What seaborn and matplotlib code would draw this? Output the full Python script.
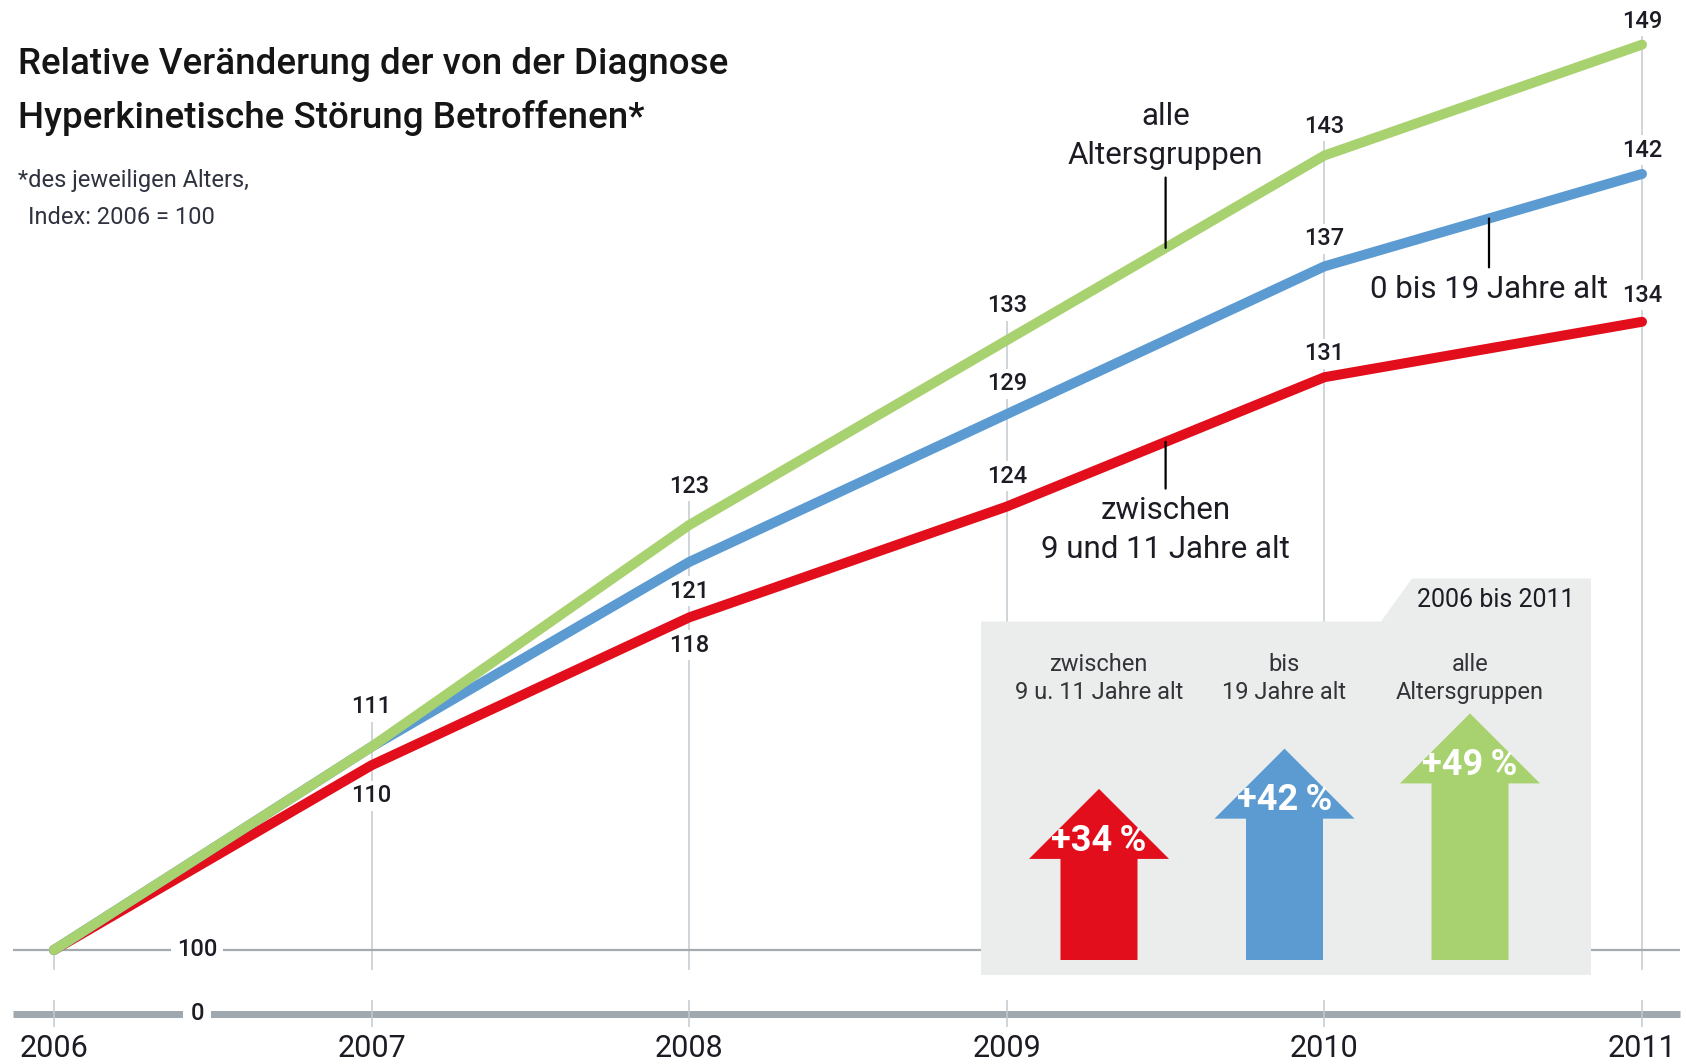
import numpy as np
import pandas as pd
import matplotlib.pyplot as plt
import seaborn as sns
from matplotlib.patches import Polygon

# ===== DATA =====
years = [2006, 2007, 2008, 2009, 2010, 2011]
alle = [100, 111, 123, 133, 143, 149]
bis19 = [100, 111, 121, 129, 137, 142]
zwischen = [100, 110, 118, 124, 131, 134]

groups = ['zwischen 9 und 11 Jahre alt', '0 bis 19 Jahre alt', 'alle Altersgruppen']
colors = ['#e20e1c', '#5b9bd2', '#a8d26f']  # red, blue, green

change_labels = ['zwischen\n9 u. 11 Jahre alt', 'bis\n19 Jahre alt', 'alle\nAltersgruppen']
change_pct = [34, 42, 49]

# label offsets in points (None = no label)
label_offsets = [
    [None, -22, -20, 22, 17, 19],     # zwischen
    [None, None, -21, 22, 20, 17],    # bis 19
    [None, 29, 28, 25, 21, 17],       # alle
]

# ===== STYLE =====
sns.set_style('white')
plt.rcParams['font.family'] = ['Roboto', 'DejaVu Sans']
txt = '#1c1c24'
grid = '#c4cacf'

W, H = 1686, 1064
fig = plt.figure(figsize=(W / 100, H / 100), dpi=100)

# main axes: full width, from top down to 975 px
ax = fig.add_axes([0, (H - 975) / H, 1, 975 / H])
ppy = (1642 - 54) / 5          # px per year
ppu = 842 / 49 * (W / 1568)    # px per index unit
xmin = 2006 - 54 / ppy
xmax = 2011 + (W - 1642) / ppy
ax.set_xlim(xmin, xmax)
ax.set_ylim(100 - 25 / ppu, 100 + 950 / ppu)
ax.set_axis_off()

df = pd.DataFrame({
    'Jahr': years * 3,
    'Index': zwischen + bis19 + alle,
    'Gruppe': [g for g in groups for _ in years],
})

# grid (up to the top label) and the 100 line
tops = np.max([alle, bis19, zwischen], axis=0).astype(float)
labelled = np.array([any(o[i] is not None for o in label_offsets) for i in range(len(years))])
tops = np.where(labelled, tops + 1.8, tops)
ax.vlines(years, 100 - 20 / ppu, tops, color=grid, lw=1.1, zorder=1)
line_l, line_r = 2006 - 41 / ppy, 2011 + 38 / ppy
ax.hlines(100, line_l, line_r, color='#a4abb0', lw=1.6, zorder=1)
ax.text(2006 + 143 / ppy, 100, '100', ha='center', va='center', fontsize=17,
        fontweight='medium', color=txt, zorder=1.5,
        bbox=dict(boxstyle='square,pad=0.25', fc='white', ec='none'))

sns.lineplot(data=df, x='Jahr', y='Index', hue='Gruppe', hue_order=groups,
             palette=colors, linewidth=7.2, legend=False, ax=ax,
             solid_capstyle='round', zorder=2)

# data labels
for vals, offs in zip([zwischen, bis19, alle], label_offsets):
    for x, v, o in zip(years, vals, offs):
        if o is None:
            continue
        ax.annotate(str(v), (x, v), xytext=(0, o), textcoords='offset points',
                    ha='center', va='center', fontsize=17, fontweight='medium',
                    color=txt, zorder=1.5,
                    bbox=dict(boxstyle='square,pad=0.15', fc='white', ec='none'))

# series annotations with leader lines
lead = dict(arrowstyle='-', color='black', lw=1.6, shrinkA=3, shrinkB=0)
note = dict(textcoords='offset points', ha='center', fontsize=22.5,
            color=txt, arrowprops=lead)
xa = 2009.5
ax.annotate('alle\nAltersgruppen', (xa, np.interp(xa, years, alle)),
            xytext=(0, 56), va='bottom', linespacing=1.45, **note)
xb = 2006 + (1489 - 54) / ppy
ax.annotate('0 bis 19 Jahre alt', (xb, np.interp(xb, years, bis19)),
            xytext=(0, -51), va='center', **note)
ax.annotate('zwischen\n9 und 11 Jahre alt', (xa, np.interp(xa, years, zwischen)),
            xytext=(0, -39), va='top', linespacing=1.45, **note)

# gray inset panel
def fr(px, py):
    return (px / W, (975 - py) / 975)

panel = Polygon([fr(981, 975), fr(981, 621.5), fr(1381, 621.5), fr(1412, 578.5),
                 fr(1591, 578.5), fr(1591, 975)], closed=True,
                transform=ax.transAxes, fc='#ebecec', ec='none', zorder=3)
ax.add_patch(panel)
ax.text(*fr(1496, 600), '2006 bis 2011', transform=ax.transAxes, ha='center',
        va='center', fontsize=18, color=txt, zorder=4)

# ===== INSET ARROWS =====
ppc = 4.68 * (W / 1568)        # px per percent
unit = (1470 - 1099) / 2       # px per category
ax_in = fig.add_axes([(1099 - unit / 2) / W, (H - 960) / H, 3 * unit / W, 70 * ppc / H])
ax_in.set_xlim(-0.5, 2.5)
ax_in.set_ylim(0, 70)
ax_in.set_axis_off()
ax_in.patch.set_alpha(0)
for i, (lab, pct, c) in enumerate(zip(change_labels, change_pct, colors)):
    ax_in.arrow(i, 0, 0, pct, width=77 / unit, head_width=140 / unit,
                head_length=70 / ppc, length_includes_head=True, fc=c, ec='none')
    ax_in.text(i, pct - 10.3, f'+{pct}\u2009%', ha='center', va='center',
               color='white', fontsize=26, fontweight='bold')
    ax_in.text(i, (960 - 678.5) / ppc, lab, ha='center', va='center', fontsize=17,
               color='#333338', linespacing=1.3)

# ===== BOTTOM BASELINE (0) =====
ax0 = fig.add_axes([0, (H - 1038) / H, 1, 48 / H])
ax0.set_xlim(xmin, xmax)
ax0.set_ylim(-1, 1)
ax0.hlines(0, line_l, line_r, color='#9ea8ae', lw=5, zorder=2)
ax0.vlines(years, -0.55, 0.58, color=grid, lw=1.1, zorder=3)
ax0.text(2006 + 143 / ppy, 0, '0', ha='center', va='center', fontsize=17,
         fontweight='medium', color=txt, zorder=4,
         bbox=dict(boxstyle='square,pad=0.3', fc='white', ec='none'))
ax0.set_xticks(years)
ax0.set_xticklabels([str(y) for y in years])
ax0.set_yticks([])
ax0.tick_params(axis='x', length=0, pad=-3, labelsize=22, labelcolor=txt)
for s in ax0.spines.values():
    s.set_visible(False)
ax0.patch.set_alpha(0)

# ===== TITLE =====
fig.text(18 / W, 1 - 65 / H, 'Relative Veränderung der von der Diagnose',
         va='center', fontsize=26.5, fontweight='medium', color='#151515')
fig.text(18 / W, 1 - 118 / H, 'Hyperkinetische Störung Betroffenen*',
         va='center', fontsize=26.5, fontweight='medium', color='#151515')
fig.text(18 / W, 1 - 181 / H, '*des jeweiligen Alters,', va='center',
         fontsize=17, color='#2f3340')
fig.text(28 / W, 1 - 218 / H, 'Index: 2006 = 100', va='center',
         fontsize=17, color='#2f3340')

fig.savefig('out.png', dpi=100)
